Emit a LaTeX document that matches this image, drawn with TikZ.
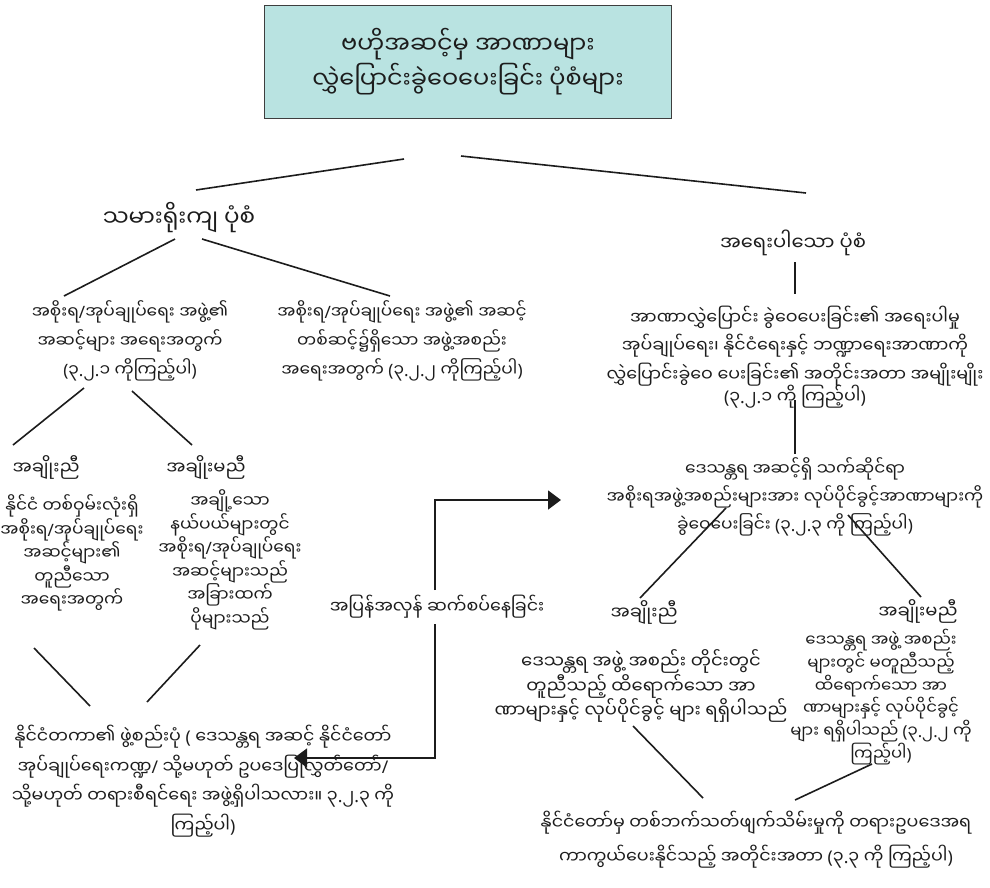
\documentclass[tikz,border=0pt]{standalone}
\usepackage{fontspec}
\newfontfamily\mya[Script=Myanmar]{Noto Sans Myanmar UI}
\newfontfamily\lat{Noto Sans}
% punctuation that the Myanmar face does not carry
\newcommand\mlp{{\lat(}}
\newcommand\mrp{{\lat)}}
\newcommand\mdt{{\lat.}}
\newcommand\msl{{\lat/}}
\usetikzlibrary{arrows.meta}
\definecolor{boxfill}{HTML}{B9E3E1}
\definecolor{ink}{HTML}{1C1C1C}
\begin{document}
\begin{tikzpicture}[x=1pt,y=-1pt,
  lbl/.style={text=ink, align=center, inner sep=0pt},
  fs/.style 2 args={font=\mya\fontsize{#1}{#2}\selectfont},
  link/.style={draw=ink, line width=1.6pt},
  flow/.style={link, -{Triangle[length=13pt,width=19pt]}}
]
\useasboundingbox (0,0) rectangle (990,887);

% top box
\node[draw=ink!85, line width=1.4pt, fill=boxfill, minimum width=407pt, minimum height=113pt,
      lbl, fs={24}{35}] (title) at (468,62)
  {ဗဟိုအဆင့်မှ အာဏာများ\\လွှဲပြောင်းခွဲဝေပေးခြင်း ပုံစံများ};

% the two families of forms
\node[lbl, fs={23}{30}] (trad) at (179,218) {သမားရိုးကျ ပုံစံ};
\node[lbl, fs={19.5}{30}] (crit) at (793,243) {အရေးပါသော ပုံစံ};

% left side
\node[lbl, fs={17}{29}] (lvl) at (130,341) {အစိုးရ\msl အုပ်ချုပ်ရေး အဖွဲ့၏\\အဆင့်များ အရေးအတွက်\\\mlp ၃\mdt ၂\mdt ၁ ကိုကြည့်ပါ\mrp};
\node[lbl, fs={17}{29}] (org) at (402,341) {အစိုးရ\msl အုပ်ချုပ်ရေး အဖွဲ့၏ အဆင့်\\တစ်ဆင့်၌ရှိသော အဖွဲ့အစည်း\\အရေးအတွက် \mlp ၃\mdt ၂\mdt ၂ ကိုကြည့်ပါ\mrp};
\node[lbl, fs={18}{28}] (symL) at (46,467) {အချိုးညီ};
\node[lbl, fs={18}{28}] (asymL) at (206,467) {အချိုးမညီ};
\node[lbl, fs={17}{21}] (sameL) at (72,553) {နိုင်ငံ တစ်ဝှမ်းလုံးရှိ\\အစိုးရ\msl အုပ်ချုပ်ရေး\\အဆင့်များ၏\\တူညီသော\\အရေးအတွက်};
\node[lbl, fs={17}{21}] (diffL) at (230,560) {အချို့သော\\နယ်ပယ်များတွင်\\အစိုးရ\msl အုပ်ချုပ်ရေး\\အဆင့်များသည်\\အခြားထက်\\ပိုများသည်};
\node[lbl, fs={17.5}{29.5}] (struct) at (203,781) {နိုင်ငံတကာ၏ ဖွဲ့စည်းပုံ \mlp{} ဒေသန္တရ အဆင့် နိုင်ငံတော်\\အုပ်ချုပ်ရေးကဏ္ဍ\msl{} သို့မဟုတ် ဥပဒေပြုလွှတ်တော်\msl\\သို့မဟုတ် တရားစီရင်ရေး အဖွဲ့ရှိပါသလား။ ၃\mdt ၂\mdt ၃ ကို\\ကြည့်ပါ\mrp};

% link between the two sides
\node[lbl, fs={17.5}{28}] (inter) at (437,607) {အပြန်အလှန် ဆက်စပ်နေခြင်း};

% right side
\node[lbl, fs={17.5}{28.5}] (imp) at (795,357) {အာဏာလွှဲပြောင်း ခွဲဝေပေးခြင်း၏ အရေးပါမှု\\အုပ်ချုပ်ရေး၊ နိုင်ငံရေးနှင့် ဘဏ္ဍာရေးအာဏာကို\\လွှဲပြောင်းခွဲဝေ ပေးခြင်း၏ အတိုင်းအတာ အမျိုးမျိုး\\[-6pt]\mlp ၃\mdt ၂\mdt ၁ ကို ကြည့်ပါ\mrp};
\node[lbl, fs={17}{28}] (local) at (795,497) {ဒေသန္တရ အဆင့်ရှိ သက်ဆိုင်ရာ\\အစိုးရအဖွဲ့အစည်းများအား လုပ်ပိုင်ခွင့်အာဏာများကို\\ခွဲဝေပေးခြင်း \mlp ၃\mdt ၂\mdt ၃ ကို ကြည့်ပါ\mrp};
\node[lbl, fs={18}{28}] (symR) at (644,612) {အချိုးညီ};
\node[lbl, fs={18}{28}] (asymR) at (918,611) {အချိုးမညီ};
\node[lbl, fs={18}{23}] (sameR) at (641,686) {ဒေသန္တရ အဖွဲ့ အစည်း တိုင်းတွင်\\တူညီသည့် ထိရောက်သော အာ\\ဏာများနှင့် လုပ်ပိုင်ခွင့် များ ရရှိပါသည်};
\node[lbl, fs={16.5}{21.6}] (diffR) at (881,697) {ဒေသန္တရ အဖွဲ့ အစည်း\\များတွင် မတူညီသည့်\\ထိရောက်သော အာ\\ဏာများနှင့် လုပ်ပိုင်ခွင့်\\များ ရရှိပါသည် \mlp ၃\mdt ၂\mdt ၂ ကို\\ကြည့်ပါ\mrp};
\node[lbl, fs={17.5}{34}] (legal) at (756,840) {နိုင်ငံတော်မှ တစ်ဘက်သတ်ဖျက်သိမ်းမှုကို တရားဥပဒေအရ\\ကာကွယ်ပေးနိုင်သည့် အတိုင်းအတာ \mlp ၃\mdt ၃ ကို ကြည့်ပါ\mrp};

% end points of the tree connectors
\coordinate (t1) at (404,159);  \coordinate (t2) at (196,190);
\coordinate (t3) at (461,156);  \coordinate (t4) at (806,193);
\coordinate (a1) at (175,239);  \coordinate (a2) at (64,296);
\coordinate (a3) at (202,239);  \coordinate (a4) at (390,296);
\coordinate (b1) at (84,388);   \coordinate (b2) at (13,445);
\coordinate (b3) at (132,391);  \coordinate (b4) at (192,445);
\coordinate (c1) at (34,648);   \coordinate (c2) at (90,706);
\coordinate (c3) at (200,645);  \coordinate (c4) at (147,702);
\coordinate (d1) at (795,262);  \coordinate (d2) at (795,294);
\coordinate (d3) at (795,400);  \coordinate (d4) at (795,454);
\coordinate (e1) at (726,508);  \coordinate (e2) at (640,598);
\coordinate (e3) at (848,515);  \coordinate (e4) at (921,597);
\coordinate (f1) at (633,726);  \coordinate (f2) at (703,798);
\coordinate (f3) at (872,764);  \coordinate (f4) at (795,800);
\coordinate (g1) at (435,590);  \coordinate (g2) at (435,500);
\coordinate (g3) at (561,500);
\coordinate (h1) at (435,624);  \coordinate (h2) at (435,758);
\coordinate (h3) at (294,758);

\draw[link] (t1) -- (t2);
\draw[link] (t3) -- (t4);
\draw[link] (a1) -- (a2);
\draw[link] (a3) -- (a4);
\draw[link] (b1) -- (b2);
\draw[link] (b3) -- (b4);
\draw[link] (c1) -- (c2);
\draw[link] (c3) -- (c4);
\draw[link] (d1) -- (d2);
\draw[link] (d3) -- (d4);
\draw[link] (e1) -- (e2);
\draw[link] (e3) -- (e4);
\draw[link] (f1) -- (f2);
\draw[link] (f3) -- (f4);
\draw[flow] (g1) -- (g2) -- (g3);
\draw[flow] (h1) -- (h2) -- (h3);
\end{tikzpicture}
\end{document}
